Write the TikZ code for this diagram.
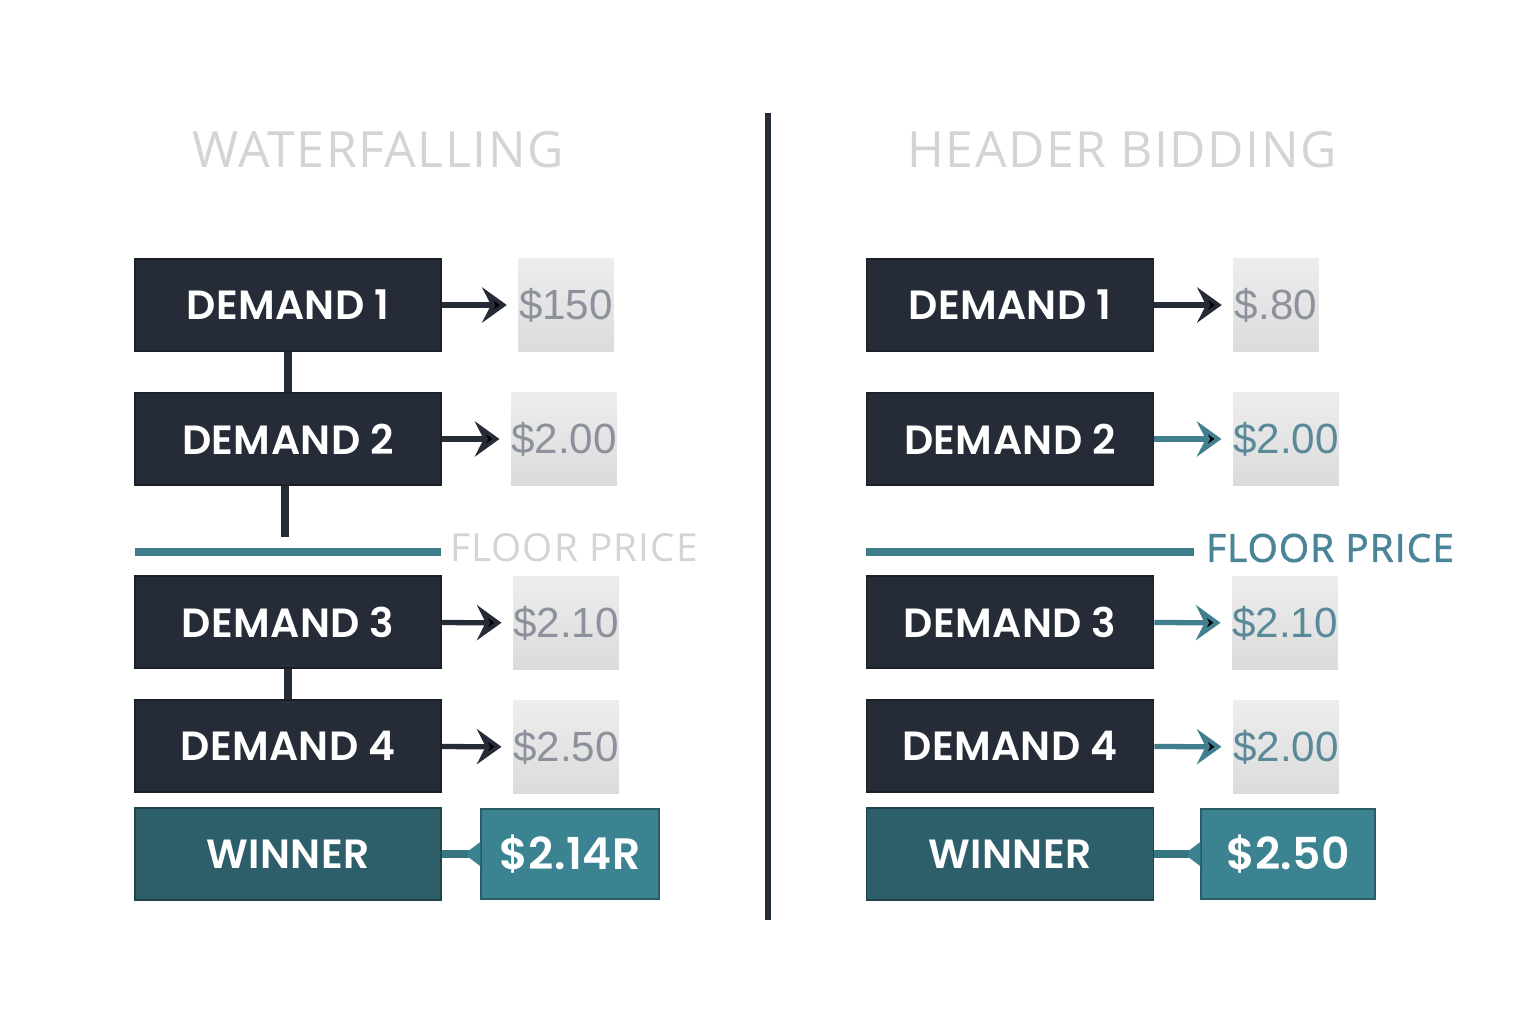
\documentclass[tikz,border=0pt]{standalone}
\usepackage{fontspec}
\setmainfont{Poppins}
\newfontfamily\boxfont{Poppins SemiBold}[LetterSpace=1]
\newfontfamily\titlefont{Open Sans}[LetterSpace=3]
\newfontfamily\floorfont{Open Sans}[LetterSpace=3, FakeBold=1.5]
\newfontfamily\pricefont{Liberation Sans}
\usetikzlibrary{arrows.meta}

\definecolor{boxdark}{HTML}{262C37}
\definecolor{winteal}{HTML}{2D5F6B}
\definecolor{priceteal}{HTML}{3B8391}
\definecolor{floorteal}{HTML}{3F7D8C}
\definecolor{arrowteal}{HTML}{417F8F}
\definecolor{pricegray}{HTML}{8C919C}
\definecolor{pricetealtxt}{HTML}{5A8A9A}
\definecolor{titlegray}{HTML}{D4D4D4}
\definecolor{floortxt}{HTML}{4A8597}

\begin{document}
\begin{tikzpicture}[x=0.01cm, y=-0.01cm,
    demand/.style={fill=boxdark, draw=boxdark!70!black, minimum height=0.92cm, inner sep=0pt, text=white, font=\boxfont\fontsize{11.6}{14}\selectfont},
    winner/.style={demand, fill=winteal, draw=winteal!70!black},
    winprice/.style={winner, fill=priceteal, draw=priceteal!70!black, minimum height=0.9cm, font=\boxfont\fontsize{12.5}{15}\selectfont},
    price/.style={minimum width=0.95cm, minimum height=0.92cm, inner sep=0pt, top color=black!7, middle color=white, bottom color=black!14, text=pricegray, font=\pricefont\fontsize{12}{14}\selectfont},
    tealprice/.style={price, text=pricetealtxt},
    title/.style={text=titlegray, font=\titlefont\fontsize{14.2}{16}\selectfont},
    bidarrow/.style={-{Stealth[length=7pt, width=10pt, inset=2.5pt]}, line width=1.5pt, draw=boxdark, shorten >=0.11cm},
    tealarrow/.style={bidarrow, draw=arrowteal},
    chain/.style={line width=2pt, draw=boxdark},
    floor/.style={line width=2.4pt, draw=floorteal},
    winlink/.style={line width=2pt, draw=priceteal!90!black}]

    \useasboundingbox[fill=white] (0,0) rectangle (1536,1024);

    % waterfalling
    \node[title] (t1) at (378,150) {WATERFALLING};

    \node[demand, minimum width=3.06cm] (a1) at (288,305) {DEMAND 1};
    \node[demand, minimum width=3.06cm] (a2) at (288,439) {DEMAND 2};
    \node[demand, minimum width=3.06cm] (a3) at (288,622) {DEMAND 3};
    \node[demand, minimum width=3.06cm] (a4) at (288,746) {DEMAND 4};
    \node[winner, minimum width=3.06cm] (aw) at (288,854) {WINNER};
    \node[winprice, minimum width=1.78cm] (awp) at (570,854) {\$2.14R};

    \node[price] (ap1) at (566,305) {\$150};
    \node[price] (ap2) at (564,439) {\$2.00};
    \node[price] (ap3) at (566,623) {\$2.10};
    \node[price] (ap4) at (566,747) {\$2.50};

    \coordinate (af1) at (135,552);
    \coordinate (af2) at (441,552);
    \coordinate (agap) at (285,537);
    \node[title, font=\titlefont\fontsize{11}{13}\selectfont] (afl) at (574,548) {FLOOR PRICE};

    \path[chain] (a1) edge (a2);
    \path[chain] (a2.south -| agap) edge (agap);
    \path[chain] (a3) edge (a4);
    \path[floor] (af1) edge (af2);

    \path[bidarrow] (a1) edge (ap1);
    \path[bidarrow] (a2) edge (ap2);
    \path[bidarrow] (a3) edge (ap3);
    \path[bidarrow] (a4) edge (ap4);

    \path[winlink] (aw) edge (awp);
    \fill[priceteal] ([yshift=0.12cm]awp.west) -- ([xshift=-0.12cm,yshift=0.03cm]awp.west) -- ([xshift=-0.12cm,yshift=-0.03cm]awp.west) -- ([yshift=-0.12cm]awp.west) -- cycle;

    % divider
    \coordinate (top) at (768,113);
    \coordinate (bot) at (768,920);
    \path[line width=1.7pt, draw=boxdark] (top) edge (bot);

    % header bidding
    \node[title] (t2) at (1122,150) {HEADER BIDDING};

    \node[demand, minimum width=2.87cm] (b1) at (1010,305) {DEMAND 1};
    \node[demand, minimum width=2.87cm] (b2) at (1010,439) {DEMAND 2};
    \node[demand, minimum width=2.87cm] (b3) at (1010,622) {DEMAND 3};
    \node[demand, minimum width=2.87cm] (b4) at (1010,746) {DEMAND 4};
    \node[winner, minimum width=2.87cm] (bw) at (1010,854) {WINNER};
    \node[winprice, minimum width=1.74cm] (bwp) at (1288,854) {\$2.50};

    \node[price, minimum width=0.85cm] (bp1) at (1276,305) {\$.80};
    \node[tealprice] (bp2) at (1286,439) {\$2.00};
    \node[tealprice] (bp3) at (1285,623) {\$2.10};
    \node[tealprice] (bp4) at (1286,747) {\$2.00};

    \coordinate (bf1) at (866,552);
    \coordinate (bf2) at (1194,552);
    \node[font=\floorfont\fontsize{11}{13}\selectfont, text=floortxt] (bfl) at (1330,548) {FLOOR PRICE};

    \path[floor] (bf1) edge (bf2);

    \path[bidarrow] (b1) edge (bp1);
    \path[tealarrow] (b2) edge (bp2);
    \path[tealarrow] (b3) edge (bp3);
    \path[tealarrow] (b4) edge (bp4);

    \path[winlink] (bw) edge (bwp);
    \fill[priceteal] ([yshift=0.12cm]bwp.west) -- ([xshift=-0.12cm,yshift=0.03cm]bwp.west) -- ([xshift=-0.12cm,yshift=-0.03cm]bwp.west) -- ([yshift=-0.12cm]bwp.west) -- cycle;
\end{tikzpicture}
\end{document}
